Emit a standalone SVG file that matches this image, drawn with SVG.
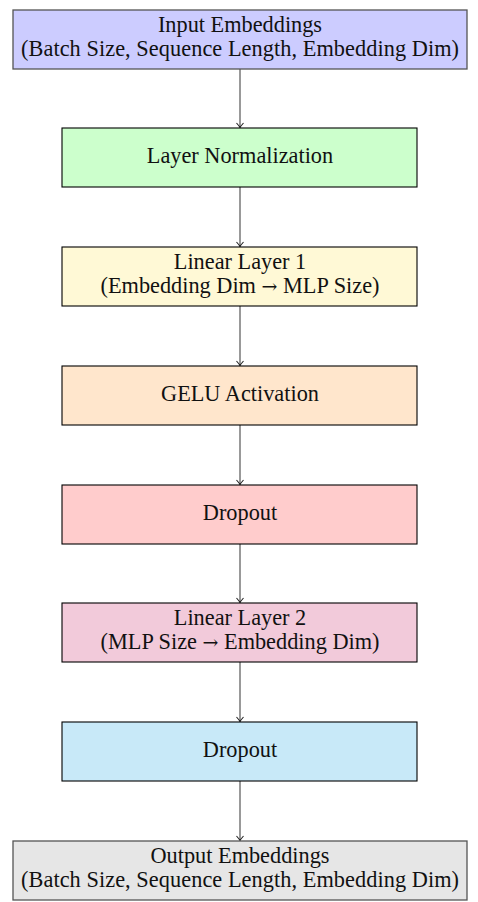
<svg xmlns="http://www.w3.org/2000/svg" width="478" height="902" viewBox="0 0 478 902">
<style>
.box{stroke:#000;stroke-width:1.1}
.io{stroke:#555;stroke-width:1.3}
text{font-family:"Liberation Serif","Times New Roman",serif;font-size:22.3px;fill:#111;text-anchor:middle}
.ar{font-family:"DejaVu Serif",serif;font-size:19px}
.conn{stroke:#777;stroke-width:1.5;fill:none;marker-end:url(#arr)}
</style>
<defs>
<marker id="arr" markerUnits="userSpaceOnUse" markerWidth="12" markerHeight="12" viewBox="-6 -6 12 12" refX="0" refY="0" orient="auto">
<path d="M-4.5,-3.5 Q-1.5,-0.8 0,0 Q-1.5,0.8 -4.5,3.5" fill="none" stroke="#222" stroke-width="1.1"/>
</marker>
</defs>
<rect width="478" height="902" fill="#fff"/>
<g id="connectors">
<line class="conn" x1="240" y1="69" x2="240" y2="127.5"/>
<line class="conn" x1="240" y1="187" x2="240" y2="246.5"/>
<line class="conn" x1="240" y1="306" x2="240" y2="365.5"/>
<line class="conn" x1="240" y1="425" x2="240" y2="484.5"/>
<line class="conn" x1="240" y1="544" x2="240" y2="602.5"/>
<line class="conn" x1="240" y1="662" x2="240" y2="721.5"/>
<line class="conn" x1="240" y1="781" x2="240" y2="840.5"/>
</g>
<g id="input">
<rect class="io" x="13" y="10" width="454" height="59" fill="#CCCCFF"/>
<text x="240" y="32">Input Embeddings</text>
<text x="240" y="56" textLength="438">(Batch Size, Sequence Length, Embedding Dim)</text>
</g>
<g id="layernorm">
<rect class="box" x="62" y="128" width="355" height="59" fill="#CCFFCC"/>
<text x="240" y="163">Layer Normalization</text>
</g>
<g id="linear1">
<rect class="box" x="62" y="247" width="355" height="59" fill="#FFF9D6"/>
<text x="240" y="269">Linear Layer 1</text>
<text x="240" y="293">(Embedding Dim <tspan class="ar">→</tspan> MLP Size)</text>
</g>
<g id="gelu">
<rect class="box" x="62" y="366" width="355" height="59" fill="#FFE6CC"/>
<text x="240" y="401">GELU Activation</text>
</g>
<g id="dropout1">
<rect class="box" x="62" y="485" width="355" height="59" fill="#FFCCCC"/>
<text x="240" y="520">Dropout</text>
</g>
<g id="linear2">
<rect class="box" x="62" y="603" width="355" height="59" fill="#F2CADA"/>
<text x="240" y="625">Linear Layer 2</text>
<text x="240" y="649">(MLP Size <tspan class="ar">→</tspan> Embedding Dim)</text>
</g>
<g id="dropout2">
<rect class="box" x="62" y="722" width="355" height="59" fill="#C8E9F8"/>
<text x="240" y="757">Dropout</text>
</g>
<g id="output">
<rect class="io" x="13" y="841" width="454" height="59" fill="#E6E6E6"/>
<text x="240" y="863">Output Embeddings</text>
<text x="240" y="887" textLength="438">(Batch Size, Sequence Length, Embedding Dim)</text>
</g>
</svg>
